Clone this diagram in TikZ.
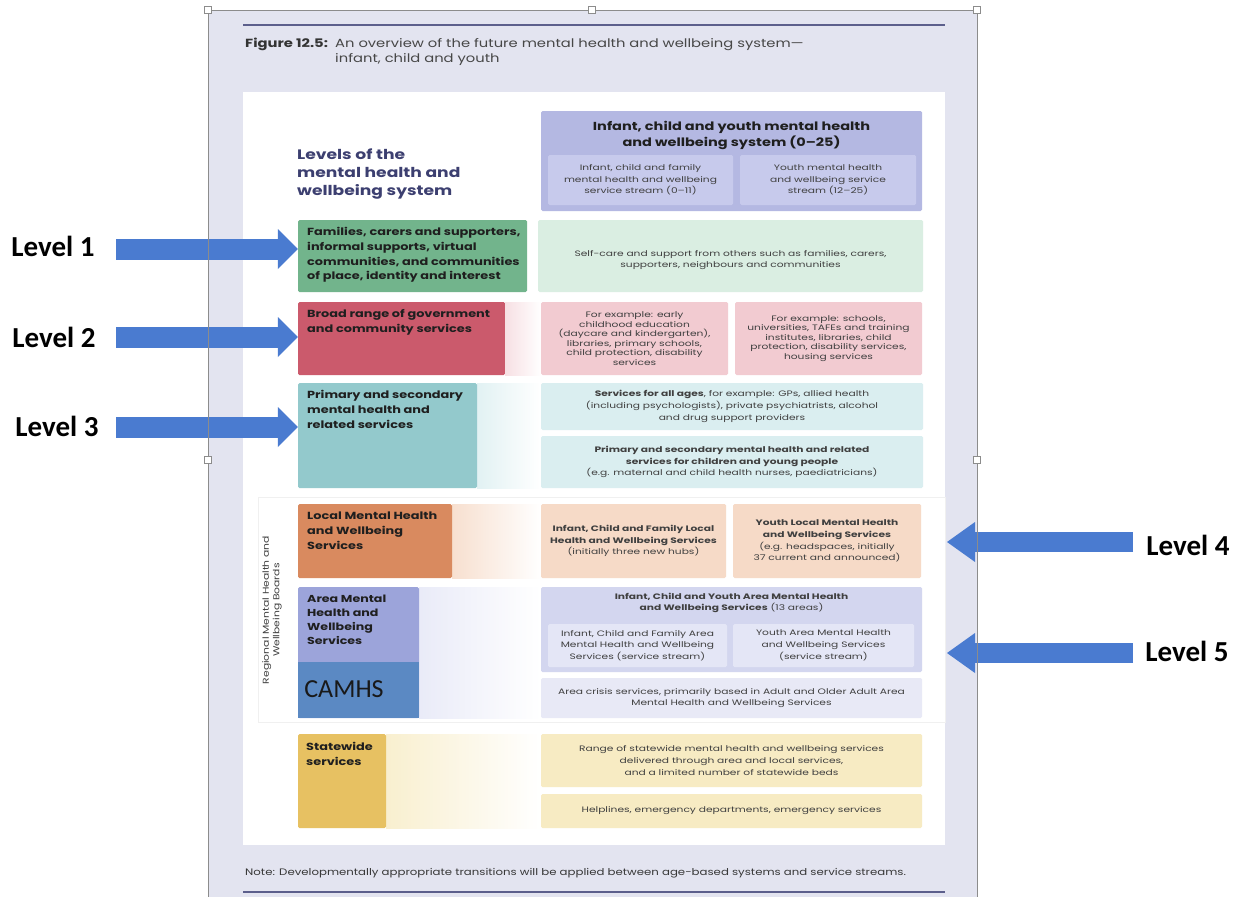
\documentclass[tikz,border=0pt]{standalone}
\usepackage{fontspec}
\setmainfont{Poppins}
\newfontfamily\wideA[FakeStretch=1.25]{Poppins}
\newfontfamily\wideB[FakeStretch=1.35]{Poppins}
\newfontfamily\calib{Carlito}
\usetikzlibrary{fit,arrows.meta}
\definecolor{pagec}{HTML}{E3E4F0}
\definecolor{rulec}{HTML}{5C5F8C}
\definecolor{headc}{HTML}{B4B8E2}
\definecolor{headsubc}{HTML}{C7CAEC}
\definecolor{navyc}{HTML}{3C3F70}
\definecolor{greenc}{HTML}{72B48C}
\definecolor{greenlt}{HTML}{DAEEE2}
\definecolor{redc}{HTML}{CB5A6C}
\definecolor{redlt}{HTML}{F2CBD1}
\definecolor{tealc}{HTML}{93C9CC}
\definecolor{teallt}{HTML}{DAEEF0}
\definecolor{orangec}{HTML}{D98A5F}
\definecolor{orangelt}{HTML}{F6DAC7}
\definecolor{peric}{HTML}{9CA4DA}
\definecolor{camhsc}{HTML}{5B89C3}
\definecolor{perilt}{HTML}{D3D6EF}
\definecolor{perisub}{HTML}{E4E6F6}
\definecolor{crisisc}{HTML}{E8E9F6}
\definecolor{mustardc}{HTML}{E7C162}
\definecolor{yellowlt}{HTML}{F7EBC3}
\definecolor{arrowc}{HTML}{4A7BD0}
\definecolor{framec}{HTML}{8C8C8C}
\begin{document}
\begin{tikzpicture}[x=1pt,y=-1pt,
  bx/.style={inner sep=0pt, rounded corners=1.5pt, draw=none},
  lt/.style={anchor=north west, align=left, inner sep=0pt, text=black!88,
    font=\wideA\fontsize{10.3}{14.8}\selectfont\bfseries},
  ct/.style={align=center, inner sep=0pt, text=black!75,
    font=\wideB\fontsize{7.9}{11.7}\selectfont},
  ctt/.style={ct, font=\wideB\fontsize{7.9}{9.5}\selectfont},
  lvl/.style={inner sep=0pt, font=\calib\bfseries\fontsize{29}{30}\selectfont},
  blockarrow/.style={line width=21pt, draw=arrowc,
    -{Triangle[width=40pt,length=20pt,line width=0pt]}},
  blockarrowR/.style={line width=20pt, draw=arrowc,
    -{Triangle[width=40pt,length=28pt,line width=0pt]}},
  handle/.style={draw=framec, fill=white, line width=0.6pt, minimum size=7pt, inner sep=0pt}
]
\useasboundingbox (0,0) rectangle (1243,897);
\fill[white] (0,0) rectangle (1243,897);
% page band
\fill[pagec] (208,10) rectangle (977,897);
\draw[rulec, line width=1.3pt] (243,25) -- (945,25);
\draw[rulec, line width=1.3pt] (243,892) -- (945,892);
% caption
\node[anchor=north west, inner sep=0pt, font=\wideA\fontsize{11.8}{15}\selectfont\bfseries, text=black!80] (figlbl) at (245,38) {Figure 12.5:};
\node[anchor=north west, inner sep=0pt, align=left, font=\wideA\fontsize{11.8}{15}\selectfont, text=black!72] (figcap) at (335,38) {An overview of the future mental health and wellbeing system—\\infant, child and youth};
% white panel
\node[fit={(243,92) (945,845)}, inner sep=0pt, fill=white] (panel) {};
% Levels title
\node[anchor=north west, inner sep=0pt, align=left, text=navyc, font=\wideA\fontsize{13.7}{18}\selectfont\bfseries] (levels) at (297,149) {Levels of the\\mental health and\\wellbeing system};
% header
\node[bx, fill=headc, fit={(541,111) (922,211)}] (head) {};
\node[bx, fill=headsubc, fit={(548,155) (733,205)}] (headL) {};
\node[bx, fill=headsubc, fit={(740,155) (916,205)}] (headR) {};
\node[ct, text=black!88, font=\wideA\fontsize{11.6}{16}\selectfont\bfseries] (headT) at (731.5,135) {Infant, child and youth mental health\\and wellbeing system (0–25)};
\node[ct] (headLt) at (headL.center) {Infant, child and family\\mental health and wellbeing\\service stream (0–11)};
\node[ct] (headRt) at (headR.center) {Youth mental health\\and wellbeing service\\stream (12–25)};
% Level 1 row
\node[bx, fill=greenc, fit={(298,220) (527,292)}] (L1) {};
\node[bx, fill=greenlt, fit={(538,220) (923,292)}] (R1) {};
\node[lt] (L1t) at (307,227) {Families, carers and supporters,\\informal supports, virtual\\communities, and communities\\of place, identity and interest};
\node[ct] (R1t) at (730.5,260) {Self-care and support from others such as families, carers,\\supporters, neighbours and communities};
% Level 2 row
\node[bx, fill=redc, fit={(298,302) (505,375)}] (L2) {};
\shade[left color=redlt!60, right color=white] (505,302) rectangle (541,375);
\node[bx, fill=redlt, fit={(541,302) (728,375)}] (R2a) {};
\node[bx, fill=redlt, fit={(735,302) (922,375)}] (R2b) {};
\node[lt] (L2t) at (307,309) {Broad range of government\\and community services};
\node[ctt] (R2at) at (R2a.center) {For example: early\\childhood education\\(daycare and kindergarten),\\libraries, primary schools,\\child protection, disability\\services};
\node[ctt] (R2bt) at (R2b.center) {For example: schools,\\universities, TAFEs and training\\institutes, libraries, child\\protection, disability services,\\housing services};
% Level 3 row
\shade[left color=teallt!80, right color=white] (477,383) rectangle (541,488);
\node[bx, fill=tealc, fit={(298,383) (477,488)}] (L3) {};
\node[bx, fill=teallt, fit={(541,383) (923,430)}] (R3a) {};
\node[bx, fill=teallt, fit={(541,436) (923,488)}] (R3b) {};
\node[lt] (L3t) at (307,390) {Primary and secondary\\mental health and\\related services};
\node[ct] (R3at) at (R3a.center) {\textbf{Services for all ages}, for example: GPs, allied health\\(including psychologists), private psychiatrists, alcohol\\and drug support providers};
\node[ct] (R3bt) at (R3b.center) {\textbf{Primary and secondary mental health and related}\\\textbf{services for children and young people}\\(e.g. maternal and child health nurses, paediatricians)};
% Regional frame
\node[fit={(258,497) (945,722)}, inner sep=0pt, draw=black!6, line width=0.8pt] (regional) {};
\node[rotate=90, align=center, inner sep=0pt, text=black!75, font=\wideA\fontsize{8.6}{10.5}\selectfont] (regt) at (272,610) {Regional Mental Health and\\Wellbeing Boards};
% Level 4 row
\shade[left color=orangelt!85, right color=white] (452,504) rectangle (541,578);
\node[bx, fill=orangec, fit={(298,504) (452,578)}] (L4) {};
\node[bx, fill=orangelt, fit={(541,504) (726,578)}] (R4a) {};
\node[bx, fill=orangelt, fit={(733,504) (921,578)}] (R4b) {};
\node[lt] (L4t) at (307,512) {Local Mental Health\\and Wellbeing\\Services};
\node[ct] (R4at) at (R4a.center) {\textbf{Infant, Child and Family Local}\\\textbf{Health and Wellbeing Services}\\(initially three new hubs)};
\node[ct] (R4bt) at (R4b.center) {\textbf{Youth Local Mental Health}\\\textbf{and Wellbeing Services}\\(e.g. headspaces, initially\\37 current and announced)};
% Level 5 row
\shade[left color=perisub!80, right color=white] (419,587) rectangle (541,718);
\node[bx, fill=peric, fit={(298,587) (419,718)}] (L5) {};
\node[bx, fill=camhsc, fit={(298,662) (419,718)}, rounded corners=0pt] (camhs) {};
\node[inner sep=0pt, text=black!90, font=\calib\fontsize{26}{28}\selectfont] (camhst) at (344,689) {CAMHS};
\node[lt, font=\wideA\fontsize{10.1}{14}\selectfont\bfseries] (L5t) at (307,595) {Area Mental\\Health and\\Wellbeing\\Services};
\node[bx, fill=perilt, fit={(541,587) (922,672)}] (R5) {};
\node[bx, fill=perisub, fit={(548,624) (727,667)}] (R5a) {};
\node[bx, fill=perisub, fit={(733,624) (914,667)}] (R5b) {};
\node[bx, fill=crisisc, fit={(541,678) (922,718)}] (R5c) {};
\node[ct] (R5t) at (731.5,603) {\textbf{Infant, Child and Youth Area Mental Health}\\\textbf{and Wellbeing Services} (13 areas)};
\node[ct] (R5at) at (R5a.center) {Infant, Child and Family Area\\Mental Health and Wellbeing\\Services (service stream)};
\node[ct] (R5bt) at (R5b.center) {Youth Area Mental Health\\and Wellbeing Services\\(service stream)};
\node[ct] (R5ct) at (R5c.center) {Area crisis services, primarily based in Adult and Older Adult Area\\Mental Health and Wellbeing Services};
% Statewide row
\shade[left color=yellowlt!80, right color=white] (386,734) rectangle (541,828);
\node[bx, fill=mustardc, fit={(298,734) (386,828)}] (L6) {};
\node[bx, fill=yellowlt, fit={(541,734) (922,787)}] (R6a) {};
\node[bx, fill=yellowlt, fit={(541,794) (922,828)}] (R6b) {};
\node[lt] (L6t) at (306,742) {Statewide\\services};
\node[ct] (R6at) at (R6a.center) {Range of statewide mental health and wellbeing services\\delivered through area and local services,\\and a limited number of statewide beds};
\node[ct] (R6bt) at (R6b.center) {Helplines, emergency departments, emergency services};
% note
\node[anchor=west, inner sep=0pt, text=black!78, font=\wideA\fontsize{9.4}{11}\selectfont] (note) at (245,873) {Note: Developmentally appropriate transitions will be applied between age-based systems and service streams.};
% level labels
\node[lvl] (lv1) at (53,246) {Level 1};
\node[lvl] (lv2) at (54,337) {Level 2};
\node[lvl] (lv3) at (57,426) {Level 3};
\node[lvl] (lv4) at (1188,545) {Level 4};
\node[lvl] (lv5) at (1187,651) {Level 5};
\coordinate (s1) at (116,249);
\coordinate (s2) at (116,337);
\coordinate (s3) at (116,427);
\coordinate (s4) at (1133,542);
\coordinate (s5) at (1133,653);
\coordinate (t4) at (947,542);
\coordinate (t5) at (947,653);
\draw[blockarrow] (s1) -- (s1 -| L1.west);
\draw[blockarrow] (s2) -- (s2 -| L2.west);
\draw[blockarrow] (s3) -- (s3 -| L3.west);
\draw[blockarrowR] (s4) -- (t4);
\draw[blockarrowR] (s5) -- (t5);
% frame lines (document frame)
\draw[framec, line width=0.7pt] (208,10) -- (977,10);
\draw[framec, line width=0.7pt] (208,10) -- (208,897);
\draw[framec, line width=0.7pt] (977,10) -- (977,897);
\node[handle] (h1) at (208,10) {};
\node[handle] (h2) at (592,10) {};
\node[handle] (h3) at (977,10) {};
\node[handle] (h4) at (208,460) {};
\node[handle] (h5) at (977,460) {};
\end{tikzpicture}
\end{document}
